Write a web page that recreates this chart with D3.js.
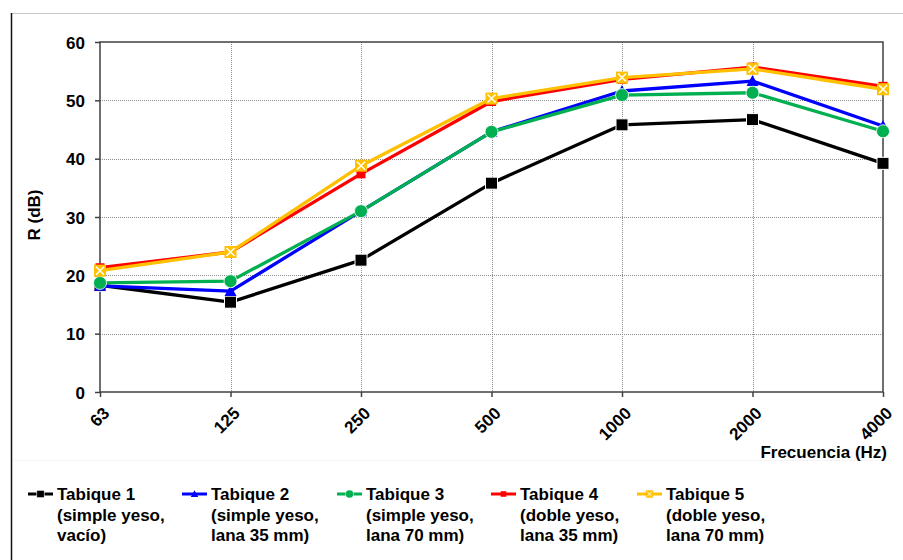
<!DOCTYPE html>
<html lang="es">
<head>
<meta charset="UTF-8">
<title>R (dB) vs Frecuencia</title>
<script src="https://d3js.org/d3.v7.min.js"></script>
<style>
  * { margin: 0; padding: 0; box-sizing: border-box; }
  body { background: #fff; width: 903px; height: 560px; overflow: hidden; }
  svg text { font-family: Arial, "Liberation Sans", sans-serif; font-weight: bold; fill: #000; }
</style>
</head>
<body>
<svg></svg>
<script>
// datos
const frecuencias = ["63", "125", "250", "500", "1000", "2000", "4000"];
const tabique1 = [18.3, 15.4, 22.6, 35.8, 45.8, 46.7, 39.2];
const tabique2 = [18.2, 17.3, 31.0, 44.6, 51.6, 53.3, 45.6];
const tabique3 = [18.7, 19.0, 31.0, 44.6, 50.9, 51.3, 44.7];
const tabique4 = [21.3, 24.0, 37.4, 49.8, 53.6, 55.7, 52.4];
const tabique5 = [20.8, 24.0, 38.8, 50.3, 53.9, 55.4, 51.9];
const nombres = ["Tabique 1", "Tabique 2", "Tabique 3", "Tabique 4", "Tabique 5"];
const descripciones = [
  ["(simple yeso,", "vacío)"],
  ["(simple yeso,", "lana 35 mm)"],
  ["(simple yeso,", "lana 70 mm)"],
  ["(doble yeso,", "lana 35 mm)"],
  ["(doble yeso,", "lana 70 mm)"]
];
const yTicks = [0, 10, 20, 30, 40, 50, 60];

const series = [
  { name: nombres[0], desc: descripciones[0], values: tabique1, color: "#000000", marker: "bigsquare" },
  { name: nombres[1], desc: descripciones[1], values: tabique2, color: "#0000ff", marker: "triangle" },
  { name: nombres[2], desc: descripciones[2], values: tabique3, color: "#00b050", marker: "circle" },
  { name: nombres[3], desc: descripciones[3], values: tabique4, color: "#ff0000", marker: "square" },
  { name: nombres[4], desc: descripciones[4], values: tabique5, color: "#ffc000", marker: "xsquare" }
];

const width = 903, height = 560;
const fs = "17px";
const svg = d3.select("svg").attr("width", width).attr("height", height);

// marco exterior
svg.append("line").attr("x1", 11).attr("x2", width).attr("y1", 13.5).attr("y2", 13.5)
  .attr("stroke", "#c8c8c8").attr("stroke-width", 1);
svg.append("line").attr("x1", 11.5).attr("x2", 11.5).attr("y1", 13).attr("y2", height)
  .attr("stroke", "#111").attr("stroke-width", 1.5);
svg.append("line").attr("x1", 13).attr("x2", 890).attr("y1", 460.5).attr("y2", 460.5)
  .attr("stroke", "#f4f4f4").attr("stroke-width", 1);

const plot = { left: 100, top: 42, right: 883, bottom: 392 };

const x = d3.scalePoint().domain(frecuencias).range([plot.left, plot.right]).padding(0);
const y = d3.scaleLinear().domain([0, 60]).range([plot.bottom, plot.top]);

// rejilla
const grid = svg.append("g");
grid.selectAll(".gy").data(yTicks.filter(d => d > 0 && d < 60)).enter().append("line")
  .attr("x1", plot.left).attr("x2", plot.right)
  .attr("y1", d => Math.round(y(d)) + 0.5).attr("y2", d => Math.round(y(d)) + 0.5)
  .attr("stroke", "#8c8c8c").attr("stroke-width", 1).attr("stroke-dasharray", "1,1");
grid.selectAll(".gx").data(frecuencias.slice(1, -1)).enter().append("line")
  .attr("y1", plot.top).attr("y2", plot.bottom)
  .attr("x1", d => Math.round(x(d)) + 0.5).attr("x2", d => Math.round(x(d)) + 0.5)
  .attr("stroke", "#8c8c8c").attr("stroke-width", 1).attr("stroke-dasharray", "1,1");

// borde del area
svg.append("rect").attr("x", plot.left).attr("y", plot.top)
  .attr("width", plot.right - plot.left).attr("height", plot.bottom - plot.top)
  .attr("fill", "none").attr("stroke", "#404040").attr("stroke-width", 1.5);

// ejes
const yAxis = svg.append("g").attr("transform", `translate(${plot.left},0)`)
  .call(d3.axisLeft(y).tickValues(yTicks).tickSize(5).tickPadding(10));
yAxis.select(".domain").remove();
yAxis.selectAll(".tick line").attr("stroke", "#404040").attr("stroke-width", 1.5);
yAxis.selectAll(".tick text").attr("font-size", fs).attr("dy", "0.36em");

const xAxis = svg.append("g").attr("transform", `translate(0,${plot.bottom})`)
  .call(d3.axisBottom(x).tickSize(5).tickFormat(""));
xAxis.select(".domain").remove();
xAxis.selectAll(".tick line").attr("stroke", "#404040").attr("stroke-width", 1.5);

svg.append("g").selectAll("text").data(frecuencias).enter().append("text")
  .attr("transform", d => `translate(${x(d) + 2},${plot.bottom + 14}) rotate(-45)`)
  .attr("text-anchor", "end").attr("dy", "0.7em")
  .attr("font-size", fs).text(d => d);

svg.append("text").attr("transform", "translate(40,215) rotate(-90)")
  .attr("text-anchor", "middle").attr("font-size", fs).text("R (dB)");
svg.append("text").attr("x", 887).attr("y", 458)
  .attr("text-anchor", "end").attr("font-size", fs).text("Frecuencia (Hz)");

// marcadores
function drawMarker(g, type, color) {
  if (type === "bigsquare") {
    g.append("rect").attr("x", -6).attr("y", -6).attr("width", 12).attr("height", 12)
      .attr("fill", color).attr("stroke", "#fff").attr("stroke-width", 1);
  } else if (type === "square") {
    g.append("rect").attr("x", -4.5).attr("y", -4.5).attr("width", 9).attr("height", 9)
      .attr("fill", color);
  } else if (type === "triangle") {
    g.append("path").attr("d", "M0,-6L6,5L-6,5Z").attr("fill", color);
  } else if (type === "circle") {
    g.append("circle").attr("r", 6.5).attr("fill", color).attr("stroke", "#fff").attr("stroke-width", 0.8);
  } else if (type === "xsquare") {
    g.append("rect").attr("x", -6).attr("y", -6).attr("width", 12).attr("height", 12)
      .attr("fill", color);
    g.append("path").attr("d", "M-4,-4L4,4M4,-4L-4,4")
      .attr("stroke", "#fff").attr("stroke-width", 1.5);
  }
}

const line = d3.line().x((d, i) => x(frecuencias[i])).y(d => y(d));

series.forEach(s => {
  const g = svg.append("g");
  g.append("path").datum(s.values).attr("d", line)
    .attr("fill", "none").attr("stroke", s.color).attr("stroke-width", 3.3)
    .attr("stroke-linejoin", "round");
  s.values.forEach((v, i) => {
    drawMarker(g.append("g").attr("transform", `translate(${x(frecuencias[i])},${y(v)})`), s.marker, s.color);
  });
});

// leyenda
const legendX = [28, 182, 337, 491, 637];
const legend = svg.append("g");
series.forEach((s, i) => {
  const lg = legend.append("g").attr("transform", `translate(${legendX[i]},494)`);
  lg.append("line").attr("x1", 0).attr("x2", 25).attr("y1", 0).attr("y2", 0)
    .attr("stroke", s.color).attr("stroke-width", 3);
  const m = lg.append("g").attr("transform", "translate(12.5,0) scale(0.62)");
  drawMarker(m, s.marker, s.color);
  const t = lg.append("text").attr("x", 29).attr("y", 0).attr("dy", "0.36em").attr("font-size", fs);
  t.append("tspan").attr("x", 29).text(s.name);
  s.desc.forEach(d => t.append("tspan").attr("x", 29).attr("dy", "20.5px").text(d));
});
</script>
</body>
</html>
